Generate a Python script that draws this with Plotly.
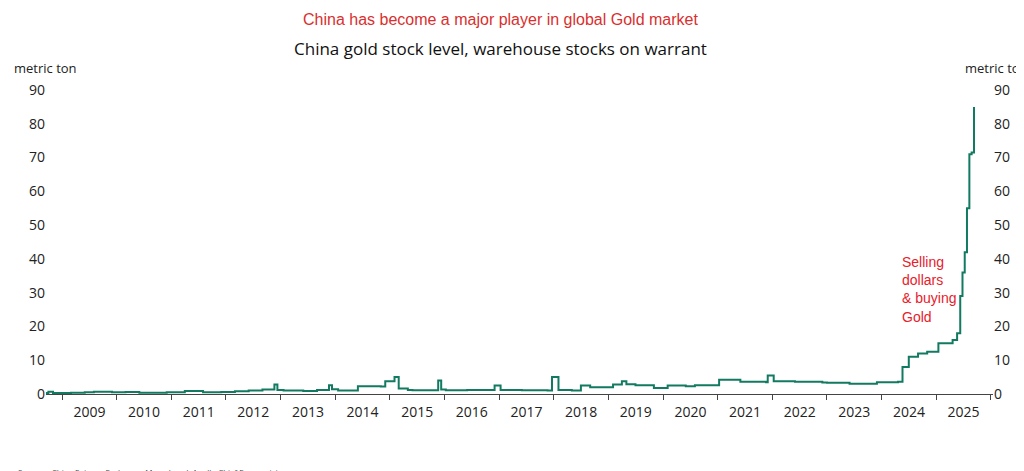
import plotly.graph_objects as go

# China gold warehouse stocks on warrant (metric ton), step levels
dates = [
    "2008-07-01", "2008-10-01", "2008-11-01", "2009-03-01", "2009-06-01", "2009-08-01",
    "2009-12-01", "2010-03-01", "2010-06-01", "2010-12-01", "2011-02-01", "2011-04-01",
    "2011-08-01", "2011-12-01", "2012-03-01", "2012-06-01", "2012-09-01", "2012-11-20",
    "2012-12-10", "2013-01-20", "2013-06-01", "2013-09-01", "2013-11-20", "2013-12-10",
    "2014-01-20", "2014-06-01", "2014-11-01", "2014-12-01", "2015-02-01", "2015-03-01",
    "2015-05-01", "2015-06-01", "2015-11-20", "2015-12-10", "2016-01-10", "2016-06-01",
    "2016-12-01", "2017-01-10", "2017-06-01", "2017-11-20", "2017-12-20", "2018-02-01",
    "2018-05-01", "2018-07-01", "2018-09-01", "2019-02-01", "2019-04-01", "2019-05-01",
    "2019-07-01", "2019-11-01", "2020-02-01", "2020-06-01", "2020-08-01", "2021-01-10",
    "2021-06-01", "2021-11-20", "2021-12-01", "2022-01-10", "2022-06-01", "2022-12-01",
    "2023-01-01", "2023-06-01", "2023-12-01", "2024-04-20", "2024-05-20", "2024-07-01",
    "2024-09-01", "2024-11-01", "2025-01-15", "2025-04-20", "2025-05-20", "2025-06-10",
    "2025-06-25", "2025-07-10", "2025-07-25", "2025-08-10", "2025-08-25", "2025-09-10",
]
values = [
    0.3, 0.7, 0.3, 0.4, 0.5, 0.7,
    0.5, 0.6, 0.4, 0.5, 0.5, 0.9,
    0.5, 0.6, 0.8, 1.0, 1.3, 2.8,
    1.2, 1.0, 0.9, 1.2, 2.6, 1.4,
    1.0, 2.3, 2.2, 3.8, 5.0, 1.6,
    1.2, 1.1, 4.0, 1.3, 1.1, 1.2,
    2.5, 1.2, 1.1, 1.0, 5.0, 1.2,
    1.0, 2.5, 2.0, 2.8, 3.8, 2.9,
    2.6, 1.8, 2.5, 2.3, 2.6, 4.2,
    3.6, 3.5, 5.5, 3.8, 3.6, 3.4,
    3.3, 3.0, 3.5, 3.6, 8.0, 11.0,
    12.0, 12.5, 15.0, 16.0, 18.0, 29.0,
    36.0, 42.0, 55.0, 71.0, 71.5, 85.0,
]
y_ticks = [0, 10, 20, 30, 40, 50, 60, 70, 80, 90]

fig = go.Figure()
fig.add_trace(go.Scatter(x=dates, y=values, mode="lines", line_shape="hv",
                         line=dict(color="#127a60", width=2), showlegend=False))
# invisible copy for right axis
fig.add_trace(go.Scatter(x=dates, y=values, mode="lines", yaxis="y2",
                         line=dict(width=0), showlegend=False, hoverinfo="skip"))

fig.update_layout(
    width=1024, height=471,
    paper_bgcolor="white", plot_bgcolor="white",
    margin=dict(l=38, r=39, t=82, b=85),
    font=dict(family="Open Sans, Arial", color="#222", size=14),
    xaxis=dict(range=["2008-09-15", "2026-01-15"], dtick="M12", tick0="2009-01-01",
               tickformat="%Y", ticklabelmode="period", ticks="outside", ticklen=5,
               showline=True, linecolor="#444", showgrid=False, tickcolor="#444"),
    yaxis=dict(range=[0, 90], tickvals=y_ticks, showgrid=False, zeroline=False,
               ticks="", showline=False),
    yaxis2=dict(range=[0, 90], tickvals=y_ticks, overlaying="y", side="right",
                showgrid=False, zeroline=False, ticks="", showline=False),
    annotations=[
        dict(text="China has become a major player in global Gold market", x=0.48, y=1.0,
             xref="paper", yref="paper", yanchor="middle", yshift=71, showarrow=False,
             font=dict(color="#d9302e", size=16, family="Arial")),
        dict(text="China gold stock level, warehouse stocks on warrant", x=0.48, y=1.0,
             xref="paper", yref="paper", yanchor="middle", yshift=42, showarrow=False,
             font=dict(size=17, color="#111")),
        dict(text="metric ton", x=0, y=1.0, xref="paper", yref="paper", xanchor="left",
             yanchor="middle", xshift=-34, yshift=22, showarrow=False, font=dict(size=13)),
        dict(text="metric ton", x=1, y=1.0, xref="paper", yref="paper", xanchor="right",
             yanchor="middle", xshift=37, yshift=22, showarrow=False, font=dict(size=13)),
        dict(text="Selling<br>dollars<br>& buying<br>Gold", x="2024-05-01", y=42,
             xanchor="left", yanchor="top", align="left", showarrow=False,
             font=dict(color="#e8202a", size=14, family="Arial")),
        dict(text="Sources: China Futures Exchange, Macrobond, Apollo Chief Economist",
             x=0, y=0, xref="paper", yref="paper", xanchor="left", yanchor="middle",
             xshift=-30, yshift=-77, showarrow=False, font=dict(size=8, color="#444")),
    ],
)

fig.write_html("out.html")
